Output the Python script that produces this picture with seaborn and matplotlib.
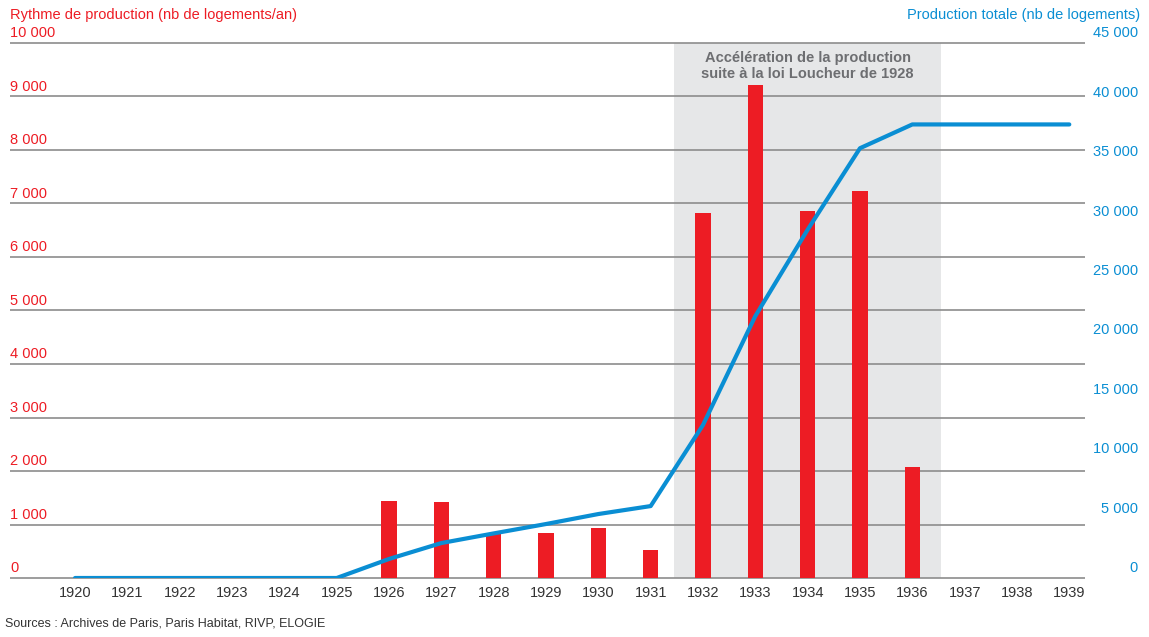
import matplotlib
matplotlib.use("Agg")
import matplotlib.pyplot as plt
import matplotlib.transforms as mtransforms
import seaborn as sns
import pandas as pd
import numpy as np

years = list(range(1920, 1940))
rythme = [0, 0, 0, 0, 0, 0, 1440, 1420, 840, 850, 930, 520,
          6820, 9215, 6860, 7230, 2075, 0, 0, 0]
total = [0, 0, 0, 0, 0, 0, 1600, 2940, 3750, 4540, 5380, 6050,
         12870, 22030, 29300, 36150, 38150, 38150, 38150, 38150]
left_ticks = [0, 1000, 2000, 3000, 4000, 5000, 6000, 7000, 8000, 9000, 10000]
right_ticks = [0, 5000, 10000, 15000, 20000, 25000, 30000, 35000, 40000, 45000]

RED = "#ed1c24"
BLUE = "#0a8ed3"
GREY_TXT = "#6d6e71"
GRID = "#8c8c8c"

sns.set_theme(style="white")
plt.rcParams["font.family"] = ["Liberation Sans", "DejaVu Sans"]

df = pd.DataFrame({"annee": [str(y) for y in years], "rythme": rythme,
                   "pos": np.arange(len(years)), "total": total})

fig = plt.figure(figsize=(11.49, 6.37), dpi=100)
ax = fig.add_axes([10 / 1149, 1 - 578 / 637, 1075 / 1149, 535 / 637])

# zone grisée 1932-1936
ax.axvspan(11.45, 16.55, color="#e6e7e8", zorder=0, lw=0)
ax.hlines(left_ticks, -1.243, 19.3, color=GRID, lw=1.2, zorder=1, clip_on=False)

sns.barplot(data=df, x="annee", y="rythme", color=RED, width=0.29,
            saturation=1, ax=ax, zorder=2, linewidth=0, edgecolor="none")
ax.set_xlim(-1.243, 19.3)
ax.set_ylim(0, 10000)

ax2 = ax.twinx()
sns.lineplot(data=df, x="pos", y="total", color=BLUE, lw=3, ax=ax2, zorder=3)
ax2.set_ylim(0, 45000)

for a in (ax, ax2):
    for s in a.spines.values():
        s.set_visible(False)
    a.set_yticks([])
    a.set_xlabel("")
    a.set_ylabel("")
ax.set_xlim(-1.243, 19.3)
ax.set_xticks(range(len(years)))
ax.set_xticklabels([str(y) for y in years])
ax.tick_params(axis="x", length=0, pad=6, labelsize=10.5, labelcolor="#333333",
               labelbottom=True)
ax2.tick_params(axis="x", length=0, labelbottom=False)

# étiquettes des axes
off = mtransforms.offset_copy(ax.transData, fig=fig, x=0, y=2, units="points")
tl = mtransforms.blended_transform_factory(fig.transFigure, off)
for v in left_ticks:
    ax.text(10 / 1149, v, f"{v:,}".replace(",", " "), transform=tl, color=RED,
            fontsize=10.5, ha="left", va="bottom")
off2 = mtransforms.offset_copy(ax2.transData, fig=fig, x=0, y=2, units="points")
tr = mtransforms.blended_transform_factory(fig.transFigure, off2)
for v in right_ticks:
    ax2.text(1138 / 1149, v, f"{v:,}".replace(",", " "), transform=tr, color=BLUE,
             fontsize=10.5, ha="right", va="bottom")

fig.text(10 / 1149, 1 - 15 / 637, "Rythme de production (nb de logements/an)",
         color=RED, fontsize=10.5, ha="left", va="center")
fig.text(1140 / 1149, 1 - 15 / 637, "Production totale (nb de logements)",
         color=BLUE, fontsize=10.5, ha="right", va="center")

ax.text(14, 9570, "Accélération de la production\nsuite à la loi Loucheur de 1928",
        ha="center", va="center", fontsize=10.5, fontweight="bold",
        color=GREY_TXT, linespacing=1.15, zorder=4)

fig.text(5 / 1149, 1 - 623 / 637, "Sources : Archives de Paris, Paris Habitat, RIVP, ELOGIE",
         fontsize=9, color="#333333", ha="left", va="center")

fig.savefig("out.png", dpi=100)
